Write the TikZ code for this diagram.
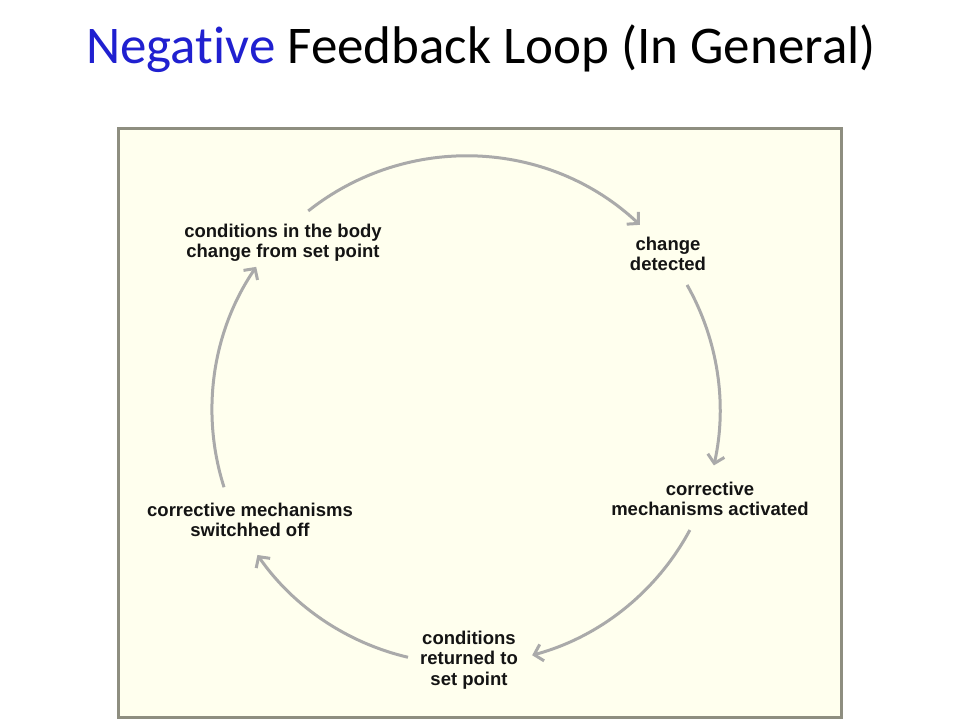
\documentclass[tikz,border=0pt]{standalone}
\usepackage{fontspec}
\setmainfont{Carlito}[Ligatures=NoCommon]
\newfontfamily\labfont{Liberation Sans}
\usetikzlibrary{arrows.meta}
\definecolor{titleblue}{HTML}{2020D0}
\definecolor{boxfill}{HTML}{FFFFEE}
\definecolor{boxline}{HTML}{8E8E80}
\definecolor{arrgray}{HTML}{AAAAAA}
\definecolor{labtext}{HTML}{141414}
\begin{document}
\begin{tikzpicture}[x=1pt,y=-1pt,
  lab/.style={font=\labfont\bfseries\fontsize{18.5}{20.5}\selectfont, text=labtext, align=center, inner sep=0pt},
  cyc/.style={draw=arrgray, line width=3pt, -{Straight Barb[length=8pt,width=17pt]}},
  frame/.style={draw=boxline, fill=boxfill, line width=3pt}]
\fill[white] (0,0) rectangle (960,720);
\useasboundingbox (0,0) rectangle (960,720);
\node[anchor=base, font=\fontsize{53}{60}\selectfont, inner sep=0pt] (title) at (481,63)
  {\textcolor{titleblue}{Negative} Feedback Loop (In General)};
\draw[frame] (118,128) rectangle (841,717);
\node[lab] (n1) at (283,243) {conditions in the body\\change from set point};
\node[lab] (n2) at (668,254) {change\\detected};
\node[lab] (n3) at (710,499) {corrective\\mechanisms activated};
\node[lab] (n4) at (469,660) {conditions\\returned to\\set point};
\node[lab] (n5) at (250,520) {corrective mechanisms\\switchhed off};
\coordinate (ctr) at (466,410);
\path (ctr) ++(-128.4:254) coordinate (a1);
\path (ctr) ++(-29.5:254) coordinate (a2);
\path (ctr) ++(28.2:254) coordinate (a3);
\path (ctr) ++(103.2:254) coordinate (a4);
\path (ctr) ++(162.3:254) coordinate (a5);
\draw[cyc] (a1) arc[start angle=-128.4, end angle=-46.8, radius=254];
\draw[cyc] (a2) arc[start angle=-29.5, end angle=12.6, radius=254];
\draw[cyc] (a3) arc[start angle=28.2, end angle=74.9, radius=254];
\draw[cyc] (a4) arc[start angle=103.2, end angle=145.2, radius=254];
\draw[cyc] (a5) arc[start angle=162.3, end angle=214.3, radius=254];
\end{tikzpicture}
\end{document}
